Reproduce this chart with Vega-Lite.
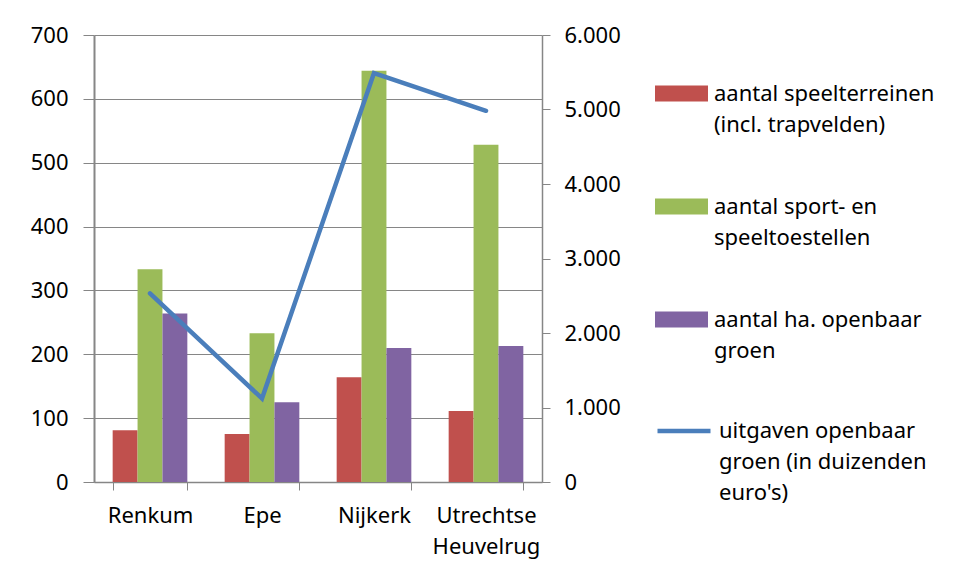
{
  "$schema": "https://vega.github.io/schema/vega-lite/v6.json",
  "width": 448,
  "height": 447,
  "autosize": {"type": "none"},
  "padding": {"left": 94, "top": 35, "right": 430, "bottom": 94},
  "background": "white",
  "config": {
    "view": {"stroke": null},
    "font": "Noto Sans",
    "style": {"guide-label": {"lineHeight": 31}},
    "axis": {"labelFont": "Noto Sans", "labelFontSize": 22, "labelColor": "#000000", "domainColor": "#868686", "tickColor": "#868686", "gridColor": "#868686", "titleFontSize": 0},
    "legend": {"labelFont": "Noto Sans", "labelFontSize": 22, "labelColor": "#000000", "labelLimit": 300}
  },
  "datasets": {
    "bars": [
      {"gemeente": "Renkum", "reeks": "aantal speelterreinen (incl. trapvelden)", "waarde": 81},
      {"gemeente": "Renkum", "reeks": "aantal sport- en speeltoestellen", "waarde": 333},
      {"gemeente": "Renkum", "reeks": "aantal ha. openbaar groen", "waarde": 264},
      {"gemeente": "Epe", "reeks": "aantal speelterreinen (incl. trapvelden)", "waarde": 75},
      {"gemeente": "Epe", "reeks": "aantal sport- en speeltoestellen", "waarde": 233},
      {"gemeente": "Epe", "reeks": "aantal ha. openbaar groen", "waarde": 125},
      {"gemeente": "Nijkerk", "reeks": "aantal speelterreinen (incl. trapvelden)", "waarde": 164},
      {"gemeente": "Nijkerk", "reeks": "aantal sport- en speeltoestellen", "waarde": 644},
      {"gemeente": "Nijkerk", "reeks": "aantal ha. openbaar groen", "waarde": 210},
      {"gemeente": "Utrechtse Heuvelrug", "reeks": "aantal speelterreinen (incl. trapvelden)", "waarde": 111},
      {"gemeente": "Utrechtse Heuvelrug", "reeks": "aantal sport- en speeltoestellen", "waarde": 528},
      {"gemeente": "Utrechtse Heuvelrug", "reeks": "aantal ha. openbaar groen", "waarde": 213}
    ],
    "lijn": [
      {"gemeente": "Renkum", "reeks": "uitgaven openbaar groen (in duizenden euro's)", "uitgaven": 2532},
      {"gemeente": "Epe", "reeks": "uitgaven openbaar groen (in duizenden euro's)", "uitgaven": 1121},
      {"gemeente": "Nijkerk", "reeks": "uitgaven openbaar groen (in duizenden euro's)", "uitgaven": 5489},
      {"gemeente": "Utrechtse Heuvelrug", "reeks": "uitgaven openbaar groen (in duizenden euro's)", "uitgaven": 4983}
    ]
  },
  "layer": [
    {
      "data": {"name": "bars"},
      "mark": {"type": "bar"},
      "encoding": {
        "x": {
          "field": "gemeente", "type": "nominal",
          "scale": {"domain": ["Renkum", "Epe", "Nijkerk", "Utrechtse Heuvelrug"], "paddingInner": 0.3333, "paddingOuter": 0.1667},
          "axis": {"title": null, "labelAngle": 0, "tickBand": "extent", "tickSize": 8, "labelPadding": 15, "labelLineHeight": 31, "domainWidth": 1.5,
            "labelExpr": "datum.value == 'Utrechtse Heuvelrug' ? ['Utrechtse', 'Heuvelrug'] : datum.value"}
        },
        "xOffset": {
          "field": "reeks", "type": "nominal",
          "scale": {"domain": ["aantal speelterreinen (incl. trapvelden)", "aantal sport- en speeltoestellen", "aantal ha. openbaar groen"], "paddingInner": 0, "paddingOuter": 0}
        },
        "y": {
          "field": "waarde", "type": "quantitative",
          "scale": {"domain": [0, 700], "nice": false},
          "axis": {"title": null, "values": [0, 100, 200, 300, 400, 500, 600, 700], "grid": true, "gridWidth": 1, "tickSize": 11, "labelPadding": 15, "domainWidth": 2}
        },
        "fill": {
          "field": "reeks", "type": "nominal",
          "scale": {
            "domain": ["aantal speelterreinen (incl. trapvelden)", "aantal sport- en speeltoestellen", "aantal ha. openbaar groen"],
            "range": ["#C0504D", "#9BBB59", "#8064A2"]
          },
          "legend": {
            "title": null,
            "orient": "none",
            "legendX": 561,
            "legendY": 32,
            "direction": "vertical",
            "labelOffset": 6,
            "rowPadding": 44,
            "symbolSize": 2809,
            "symbolType": "M-1,-0.3H1V0.3H-1Z",
            "symbolStrokeWidth": 0,
            "symbolOpacity": 1,
            "labelExpr": "datum.label == 'aantal speelterreinen (incl. trapvelden)' ? ['aantal speelterreinen', '(incl. trapvelden)'] : datum.label == 'aantal sport- en speeltoestellen' ? ['aantal sport- en', 'speeltoestellen'] : ['aantal ha. openbaar', 'groen']"
          }
        }
      }
    },
    {
      "data": {"name": "lijn"},
      "mark": {"type": "line", "strokeWidth": 4.5, "strokeCap": "round", "strokeJoin": "miter"},
      "encoding": {
        "x": {"field": "gemeente", "type": "nominal", "scale": {"domain": ["Renkum", "Epe", "Nijkerk", "Utrechtse Heuvelrug"]}},
        "y": {
          "field": "uitgaven", "type": "quantitative",
          "scale": {"domain": [0, 6000], "nice": false},
          "axis": {"title": null, "orient": "right", "values": [0, 1000, 2000, 3000, 4000, 5000, 6000], "grid": false, "tickSize": 8, "labelPadding": 14, "domainWidth": 1.5,
            "labelExpr": "replace(format(datum.value, ','), ',', '.')"}
        },
        "stroke": {
          "field": "reeks", "type": "nominal",
          "scale": {"domain": ["uitgaven openbaar groen (in duizenden euro's)"], "range": ["#4A7EBB"]},
          "legend": {
            "title": null,
            "orient": "none",
            "legendX": 561,
            "legendY": 367,
            "labelOffset": 6,
            "symbolSize": 2809,
            "symbolType": "stroke",
            "symbolStrokeWidth": 4.5,
            "labelExpr": "['uitgaven openbaar', 'groen (in duizenden', 'euro\\'s)']"
          }
        }
      }
    }
  ],
  "resolve": {"scale": {"y": "independent"}}
}
